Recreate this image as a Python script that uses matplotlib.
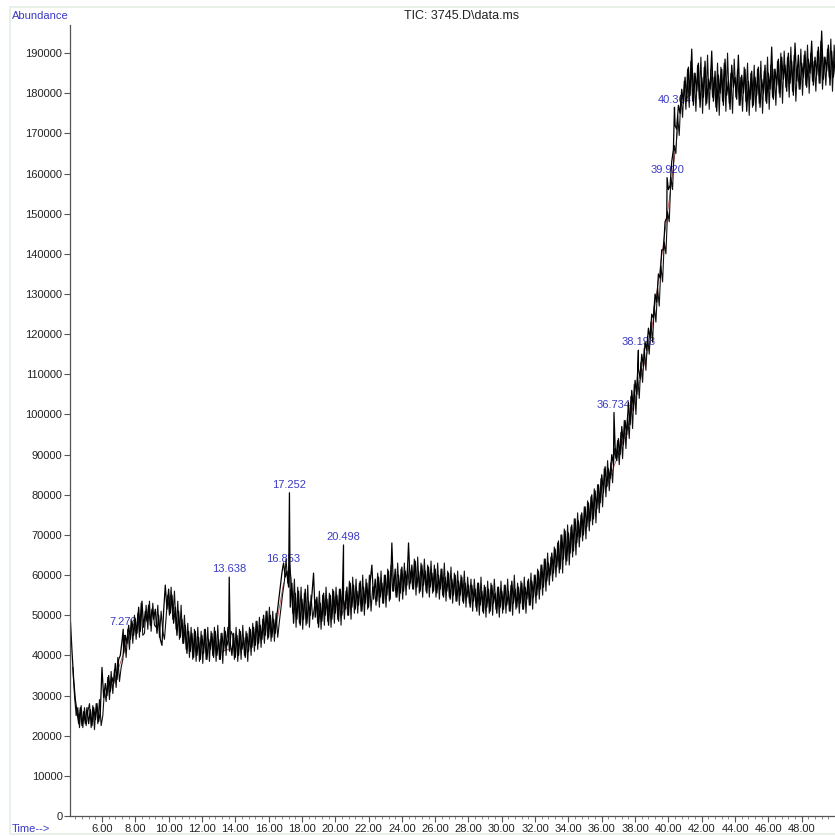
import numpy as np
import matplotlib.pyplot as plt
from matplotlib.patches import Rectangle
from matplotlib.ticker import MultipleLocator, FixedLocator

plt.rcParams["font.family"] = ["Liberation Sans", "DejaVu Sans"]

# TIC trace, abundance in thousands.
# scans_a: one reading every 0.1 min from 4.10 to 50.00 min
# scans_b: second set of readings, every 0.1 min from 4.25 to 50.15 min
T_START = 4.1
T_STEP = 0.1
B_OFFSET = 0.15
scans_a = [
    49, 41, 34, 29, 26, 23, 27, 22.5, 26, 23,                    # 4.1 - 5.0
    27, 23, 26.5, 22.5, 27, 24, 28, 23.5, 26, 37,                # 5.1 - 6.0
    29.5, 33, 30, 35, 31, 34.5, 33, 38, 34, 39,                  # 6.1 - 7.0
    40, 43.5, 40.5, 45, 43, 47.5, 44, 48.5, 45, 49,              # 7.1 - 8.0
    45.5, 52, 46, 53.5, 47, 51, 48.5, 52.5, 47.5, 51.5,          # 8.1 - 9.0
    49, 51.5, 45.5, 50, 44, 42.5, 51, 57.5, 51.5, 56.5,          # 9.1 - 10.0
    50.5, 55, 48, 52, 45, 51, 44.5, 49, 43, 47.5,                # 10.1 - 11.0
    40.5, 46, 41, 45.5, 39.5, 46, 40, 44.5, 39, 45,              # 11.1 - 12.0
    40.5, 46.5, 39, 44, 41.5, 45.5, 39.5, 46, 40, 44,            # 12.1 - 13.0
    39, 45.5, 41, 46, 42.5, 44, 43, 40, 45.5, 39.5,              # 13.1 - 14.0
    45, 40, 46, 41.5, 44.5, 39.5, 45.5, 41, 46.5, 42,            # 14.1 - 15.0
    47, 42.5, 48.5, 43, 47.5, 44, 50, 45, 51, 44.5,              # 15.1 - 16.0
    50, 44.5, 49, 45.5, 50, 53.5, 57, 60.5, 63, 59.5,            # 16.1 - 17.0
    61, 57, 52, 58, 48, 55.5, 49, 56, 47.5, 54,                  # 17.1 - 18.0
    49, 56.5, 48, 53.5, 50, 55, 60.5, 49.5, 54.5, 47,            # 18.1 - 19.0
    53, 48.5, 55.5, 50, 54, 47.5, 55, 49, 56, 50.5,              # 19.1 - 20.0
    55, 48.5, 56.5, 50, 54, 51.5, 57, 50, 58, 52,                # 20.1 - 21.0
    57.5, 51.5, 56, 52.5, 58.5, 51, 57, 53, 58, 52,              # 21.1 - 22.0
    58.5, 62.5, 54, 59, 53.5, 59.5, 54.5, 58, 53, 60,            # 22.1 - 23.0
    55, 61, 54, 68, 56, 61.5, 54.5, 60, 55.5, 62,                # 23.1 - 24.0
    56, 61, 57.5, 68, 58, 62.5, 56.5, 63.5, 57, 61,              # 24.1 - 25.0
    56, 62.5, 57.5, 61, 55.5, 62, 57, 60.5, 56, 61.5,            # 25.1 - 26.0
    55.5, 60, 56.5, 61.5, 54.5, 59.5, 56, 60.5, 54, 59,          # 26.1 - 27.0
    55, 60, 53.5, 58.5, 55, 59.5, 53, 58, 54.5, 57.5,            # 27.1 - 28.0
    52, 57.5, 53.5, 56.5, 51, 58, 52.5, 56, 50.5, 57,            # 28.1 - 29.0
    52, 56.5, 51, 57.5, 53, 55.5, 50.5, 57, 52, 56,              # 29.1 - 30.0
    51.5, 57.5, 52.5, 56, 51, 58.5, 53, 56.5, 52, 57,            # 30.1 - 31.0
    53, 58, 51.5, 57, 54, 59, 52.5, 58.5, 54.5, 60,              # 31.1 - 32.0
    55, 61, 56.5, 62.5, 57, 64, 58.5, 63, 60, 65.5,              # 32.1 - 33.0
    60.5, 66.5, 62, 68.5, 61.5, 70, 64, 71, 63.5, 70.5,          # 33.1 - 34.0
    65.5, 72.5, 66, 74, 68, 73.5, 69.5, 75.5, 70, 77,            # 34.1 - 35.0
    72, 78, 73.5, 80, 74, 81, 76.5, 82.5, 78, 85,                # 35.1 - 36.0
    80.5, 87, 82, 86.5, 84, 90, 87.5, 92, 88.5, 94,              # 36.1 - 37.0
    90, 97, 92.5, 98.5, 95, 103, 97.5, 106, 101, 108.5,          # 37.1 - 38.0
    105, 111.5, 109, 115, 112, 118, 116, 121.5, 119, 125,        # 38.1 - 39.0
    124, 130, 128, 135, 134, 141, 141, 148, 149, 156,            # 39.1 - 40.0
    157, 163, 166, 172, 171, 177, 175, 181, 177.5, 184,          # 40.1 - 41.0
    178, 186.5, 179.5, 191, 177, 185, 180.5, 187.5, 176.5, 184,  # 41.1 - 42.0
    179, 188, 177.5, 183.5, 181, 190.5, 178, 185.5, 175.5, 184.5,
    180, 186, 177, 188.5, 179.5, 183, 176, 187, 181.5, 184,
    178.5, 189.5, 177, 184.5, 180, 186, 175.5, 183, 178.5, 185.5,
    177, 184, 179.5, 186.5, 176.5, 183.5, 180, 187, 177.5, 185,
    181, 191.5, 178.5, 186, 182, 188.5, 179, 189, 183.5, 187,
    180.5, 190, 182.5, 188, 179.5, 192.5, 183, 189.5, 181, 187.5,
    184, 190.5, 181.5, 188.5, 185, 193, 182, 189, 184.5, 191.5,
    182.5, 195.5, 183.5, 189, 185.5, 192, 182, 190.5, 184, 188,  # 49.1 - 50.0
]
scans_b = [
    37, 30, 25, 27, 22, 27.5, 22, 27, 22.5, 26,                  # 4.25 - 5.15
    28, 22, 27.5, 21.5, 28, 23, 29, 22.5, 25, 31.5,              # 5.25 - 6.15
    28.5, 34.5, 29, 36, 30.5, 36.5, 32, 39.5, 33.5, 37,          # 6.25 - 7.15
    39, 45, 39.5, 46.5, 41.5, 49, 43, 50, 44, 50.5,              # 7.25 - 8.15
    44.5, 53, 45, 45.5, 52.5, 46.5, 53.5, 46, 53, 47.5,          # 8.25 - 9.15
    47, 52.5, 44.5, 51, 46, 44, 49.5, 55, 50, 57,                # 9.25 - 10.15
    49, 56, 46.5, 53.5, 44, 52.5, 43, 50, 41.5, 48,              # 10.25 - 11.15
    39.5, 47, 39, 46.5, 38.5, 47, 38.5, 46, 38, 46.5,            # 11.25 - 12.15
    39, 47, 38.5, 46, 40, 47, 38.5, 47.5, 39, 45.5,              # 12.25 - 13.15
    38, 47, 40, 47, 41, 46, 45, 39, 47, 38.5,                    # 13.25 - 14.15
    46.5, 39, 47.5, 40, 46, 38.5, 47, 40, 48, 41,                # 14.25 - 15.15
    48.5, 41.5, 49.5, 42, 49, 43, 51, 44, 52, 43.5,              # 15.25 - 16.15
    51, 43.5, 50.5, 44.5, 48.5, 52, 55.5, 58.5, 64, 58,          # 16.25 - 17.15
    63, 59, 50.5, 59, 47, 57, 48, 57, 46.5, 55.5,                # 17.25 - 18.15
    47.5, 57.5, 47, 55, 49, 52, 54, 48, 56, 46.5,                # 18.25 - 19.15
    55, 47.5, 57, 48.5, 55.5, 47, 56.5, 48, 57, 49,              # 19.25 - 20.15
    56.5, 47.5, 57.5, 49, 56, 50, 58.5, 49, 59.5, 50.5,          # 20.25 - 21.15
    59, 50.5, 58, 51, 60, 50, 59, 51.5, 60, 51,                  # 21.25 - 22.15
    57, 57, 52.5, 60.5, 52, 61, 53, 60, 52, 61.5,                # 22.25 - 23.15
    53.5, 62.5, 56, 60, 54.5, 63, 53.5, 61.5, 54, 63,            # 23.25 - 24.15
    55, 62.5, 56.5, 61, 56.5, 64, 55, 64.5, 55.5, 63,            # 24.25 - 25.15
    54.5, 64, 56, 62.5, 54.5, 63.5, 55.5, 62.5, 54.5, 63,        # 25.25 - 26.15
    54, 61.5, 55, 63, 53.5, 61, 54.5, 62, 53, 60.5,              # 26.25 - 27.15
    53.5, 61, 52.5, 60, 53.5, 61, 52, 59.5, 53, 59,              # 27.25 - 28.15
    51, 59, 52, 58, 50, 59.5, 51, 57.5, 49.5, 58.5,              # 28.25 - 29.15
    50.5, 58, 50, 59, 51.5, 57, 49.5, 58.5, 50.5, 57.5,          # 29.25 - 30.15
    50.5, 59, 51, 57.5, 50, 60, 51.5, 58, 50.5, 58.5,            # 30.25 - 31.15
    51.5, 59.5, 50.5, 58.5, 52.5, 60.5, 51.5, 60, 53, 61.5,      # 31.25 - 32.15
    54, 62.5, 55, 64, 56, 65.5, 57.5, 64.5, 58.5, 67,            # 32.25 - 33.15
    59.5, 68, 60.5, 70, 60.5, 71.5, 62.5, 72.5, 62.5, 72,        # 33.25 - 34.15
    64.5, 74, 65, 75.5, 67, 75, 68.5, 77, 69, 78.5,              # 34.25 - 35.15
    71, 79.5, 72.5, 81.5, 73, 82.5, 75.5, 84, 77, 86.5,          # 35.25 - 36.15
    79.5, 88.5, 81, 88, 83, 91.5, 89, 93.5, 87.5, 95.5,          # 36.25 - 37.15
    89, 98.5, 91.5, 100, 94, 104.5, 96.5, 107.5, 100, 110,       # 37.25 - 38.15
    104, 113, 108, 116.5, 111, 119.5, 115, 123, 118, 127,        # 38.25 - 39.15
    123, 131.5, 127, 137, 133, 143, 140, 150.5, 148, 159,        # 39.25 - 40.15
    156, 167, 165, 174.5, 169.5, 179.5, 174, 183, 176, 186,      # 40.25 - 41.15
    176.5, 188, 178, 185, 175.5, 187, 178.5, 189, 175, 186.5,    # 41.25 - 42.15
    177, 189.5, 176, 186, 179, 184, 176.5, 187.5, 174.5, 186.5,  # 42.25 - 43.15
    178, 187.5, 175.5, 190, 177.5, 185, 175, 188.5, 179, 186,    # 43.25 - 44.15
    177, 184, 175.5, 186.5, 178, 187.5, 174.5, 185, 176.5, 187,  # 44.25 - 45.15
    175.5, 186, 177.5, 188, 175, 185.5, 178, 189, 176, 187,      # 45.25 - 46.15
    179, 186, 177, 188, 180, 190, 177.5, 190.5, 181.5, 189,      # 46.25 - 47.15
    179, 191.5, 180.5, 189.5, 178, 187, 181, 191, 179.5, 189.5,  # 47.25 - 48.15
    182, 192, 180, 190, 183, 188, 180.5, 190.5, 182.5, 193,      # 48.25 - 49.15
    181, 189, 182, 191, 184, 193.5, 180.5, 192, 182.5, 190,      # 49.25 - 50.15
]
assert len(scans_a) == len(scans_b)

# integrated peaks: retention time and apex abundance (thousands)
peak_rt = [7.273, 13.638, 16.853, 17.252, 20.498, 36.734, 38.198, 39.920, 40.364]
peak_top_k = [46.5, 59.5, 62.0, 80.5, 67.5, 100.5, 116.0, 159.0, 176.5]

# integration baselines drawn under the trace: (t0, y0, t1, y1), abundance in thousands
baselines = [
    (6.6, 32, 7.5, 43),
    (13.2, 41, 14.0, 42),
    (16.4, 46, 16.9, 58),
    (20.3, 50, 20.7, 52),
    (36.3, 82, 37.5, 96),
    (37.5, 96, 38.9, 118),
    (38.9, 118, 40.1, 155),
    (40.1, 155, 40.6, 172),
]

BLUE = "#3a3ac4"

t_a = T_START + T_STEP * np.arange(len(scans_a))
t_b = t_a + B_OFFSET

# peak apexes go into the first set of readings
t_pk = np.concatenate([t_a, peak_rt])
y_pk = np.concatenate([scans_a, peak_top_k]) * 1000
order = np.argsort(t_pk, kind="stable")
t_pk, y_pk = t_pk[order], y_pk[order]

fig = plt.figure(figsize=(8.35, 8.36), dpi=100)
ax = fig.add_axes([70 / 835, 20 / 836, 765 / 835, 791 / 836])

for t0, y0, t1, y1 in baselines:
    ax.plot([t0, t1], [y0 * 1000, y1 * 1000], color="#b85050", lw=0.6, zorder=1)

# retention time labels sit under the trace
for rt, top in zip(peak_rt, peak_top_k):
    ax.annotate(f"{rt:.3f}", (rt, top * 1000), xytext=(0, 2), textcoords="offset points",
                ha="center", va="bottom", fontsize=8, color=BLUE, zorder=1.5)

ax.plot(t_b, np.array(scans_b) * 1000, color="#111111", lw=0.8, zorder=2)
ax.plot(t_pk, y_pk, color="black", lw=0.9, zorder=2)

ax.set_xlim(4.08, 50.0)
ax.set_ylim(0, 197000)

ax.xaxis.set_major_locator(FixedLocator(np.arange(6, 49, 2)))
ax.xaxis.set_major_formatter(plt.FuncFormatter(lambda v, p: f"{v:.2f}"))
ax.xaxis.set_minor_locator(MultipleLocator(0.4))
ax.yaxis.set_major_locator(MultipleLocator(10000))
ax.yaxis.set_major_formatter(plt.FuncFormatter(lambda v, p: f"{int(v)}"))

ax.tick_params(axis="both", which="major", labelsize=8, length=4, width=0.8,
               color="#555555", labelcolor="#222222", pad=1.5)
ax.tick_params(axis="x", which="minor", length=2.5, width=0.6, color="#777777")

for side in ("top", "right"):
    ax.spines[side].set_visible(False)
for side in ("left", "bottom"):
    ax.spines[side].set_color("#555555")
    ax.spines[side].set_linewidth(0.9)

fig.text(12 / 835, 1 - 16 / 836, "Abundance", color=BLUE, fontsize=8, ha="left", va="center")
fig.text(12 / 835, 1 - 829 / 836, "Time-->", color=BLUE, fontsize=8, ha="left", va="center")
fig.text(462 / 835, 1 - 16 / 836, "TIC: 3745.D\\data.ms", color="#222222", fontsize=9,
         ha="center", va="center")

fig.patches.append(Rectangle((10 / 835, 2 / 836), 1.2, 1 - 9 / 836, transform=fig.transFigure,
                             fill=False, edgecolor="#e4efe4", lw=1.2))

fig.savefig("out.png", dpi=100)
